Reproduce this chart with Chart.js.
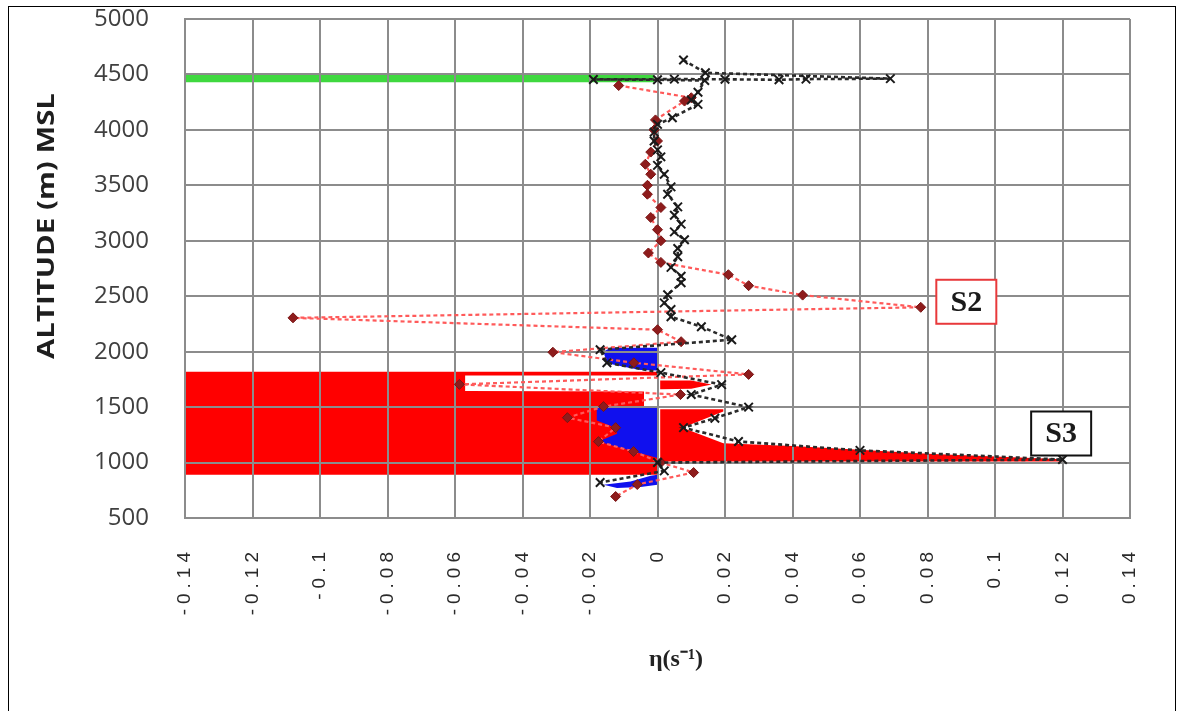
<!DOCTYPE html>
<html><head><meta charset="utf-8">
<script src="https://cdn.jsdelivr.net/npm/chart.js@4.4.1/dist/chart.umd.min.js"></script>
<style>
html,body{margin:0;padding:0;background:#fff;overflow:hidden;}
#wrap{position:relative;width:1181px;height:711px;}
#frame{position:absolute;left:8px;top:6px;width:1168px;height:705px;border:1px solid #000;border-bottom:none;box-sizing:border-box;pointer-events:none;}
canvas{display:block;}
</style></head><body>
<div id="wrap"><canvas id="c" width="1181" height="711"></canvas><div id="frame"></div></div>
<script>
// ---- tick labels ----
const xTickLabels = ['-0.14','-0.12','-0.1','-0.08','-0.06','-0.04','-0.02','0','0.02','0.04','0.06','0.08','0.1','0.12','0.14'];
const yTickLabels = ['500','1000','1500','2000','2500','3000','3500','4000','4500','5000'];

// ---- series with x markers (black) ----
const blackEta = [0.0077,0.0142,0.069,0.044,0.036,0.020,0.005,-0.019,0.0,0.014,0.012,0.010,0.012,0.0044,0.0,-0.001,-0.001,0.0,0.001,0.0,0.002,0.004,0.003,0.006,0.005,0.007,0.005,0.008,0.006,0.006,0.004,0.007,0.007,0.003,0.002,0.004,0.004,0.013,0.022,-0.017,-0.015,0.001,0.019,0.010,0.027,0.017,0.0077,0.024,0.060,0.120,0.0,0.002,-0.017];
const blackAlt = [4630,4515,4462,4458,4452,4456,4458,4455,4452,4445,4340,4270,4230,4110,4050,3980,3900,3820,3757,3680,3600,3486,3420,3306,3230,3150,3080,3009,2930,2856,2760,2680,2622,2514,2440,2380,2315,2225,2108,2018,1900,1811,1703,1613,1500,1400,1315,1190,1110,1027,1000,925,820];

// ---- series with diamond markers (dark red) ----
const redEta = [-0.0115,0.010,0.008,-0.0006,-0.001,0.0,-0.002,-0.0036,-0.002,-0.003,-0.003,0.001,-0.002,0.0,0.001,-0.0027,0.001,0.021,0.027,0.043,0.078,-0.108,0.0,0.007,-0.031,-0.007,0.027,-0.0587,0.0068,-0.016,-0.0267,-0.0124,-0.0175,-0.0071,0.001,0.0107,-0.006,-0.0124];
const redAlt = [4400,4290,4260,4090,4000,3900,3800,3690,3600,3500,3420,3300,3210,3100,3000,2890,2805,2694,2595,2510,2400,2305,2198,2090,1995,1900,1795,1705,1613,1505,1405,1315,1189,1099,1000,910,802,694];

// ---- shaded regions (outline vertices, eta / altitude) ----
const redFillLeftEta  = [-0.14,0.0,0.0,-0.057,-0.057,-0.004,-0.004,0.0,0.0,-0.14];
const redFillLeftAlt  = [1820,1820,1785,1785,1645,1640,1500,1500,890,890];
const redFillRightEta = [0.0008,0.0195,0.0195,0.0074,0.0195,0.040,0.060,0.080,0.120,0.120,0.0008];
const redFillRightAlt = [1480,1480,1460,1315,1175,1150,1115,1080,1030,1010,1010];
const redFillSmallEta = [0.0008,0.010,0.016,0.010,0.0008];
const redFillSmallAlt = [1740,1740,1705,1665,1660];
const blueTopEta = [-0.014,0.0,0.0,-0.005,-0.010,-0.015,-0.016];
const blueTopAlt = [2035,2035,1830,1835,1865,1895,2000];
const blueMidEta = [-0.018,0.0,0.0,-0.007,-0.0175,-0.012,-0.0124,-0.018];
const blueMidAlt = [1495,1495,1040,1099,1189,1260,1315,1380];
const blueLowEta = [-0.016,-0.008,-0.002,0.0,0.0,-0.005,-0.012];
const blueLowAlt = [800,830,880,890,800,780,770];
const greenBandEta = [-0.14,-0.001,-0.001,-0.14];
const greenBandAlt = [4500,4500,4430,4430];

const pts = (xs, ys) => xs.map((x, i) => ({x: x, y: ys[i]}));
const findLabel = (labels, v) => labels.find(l => Math.abs(parseFloat(l) - v) < 1e-6) || '';

function region(xs, ys, color, order) {
  return {data: pts(xs, ys), showLine: true, fill: 'shape', backgroundColor: color,
          borderWidth: 0, borderColor: color, pointRadius: 0, order: order};
}

const annot = {
  id: 'annot',
  afterDatasetsDraw(chart) { chart.ctx.letterSpacing = '5px'; },
  afterDraw(chart) {
    const ctx = chart.ctx;
    ctx.letterSpacing = '0px';
    const xs = chart.scales.x, ys = chart.scales.y;
    const boxes = [
      {t: 'S2', x: 0.0915, y: 2450, c: '#e8393b'},
      {t: 'S3', x: 0.1196, y: 1262, c: '#111'}
    ];
    boxes.forEach(b => {
      const cx = xs.getPixelForValue(b.x), cy = ys.getPixelForValue(b.y);
      ctx.save();
      ctx.fillStyle = '#fff';
      ctx.fillRect(cx - 30, cy - 22, 60, 44);
      ctx.lineWidth = 2; ctx.strokeStyle = b.c;
      ctx.strokeRect(cx - 30, cy - 22, 60, 44);
      ctx.fillStyle = '#1a1a1a';
      ctx.font = 'bold 30px "Liberation Serif"';
      ctx.textAlign = 'center'; ctx.textBaseline = 'middle';
      ctx.fillText(b.t, cx, cy + 1);
      ctx.restore();
    });
    // y title
    ctx.save();
    ctx.translate(47, 226);
    ctx.rotate(-Math.PI / 2);
    ctx.font = 'bold 24px "Open Sans"';
    const t = 'ALTITUDE (m) MSL';
    const w = ctx.measureText(t).width;
    ctx.scale(266 / w, 1);
    ctx.fillStyle = '#1e1e1e';
    ctx.textAlign = 'center'; ctx.textBaseline = 'middle';
    ctx.fillText(t, 0, 0);
    ctx.restore();
    // x title
    ctx.save();
    ctx.font = 'bold 24px "Liberation Serif"';
    ctx.fillStyle = '#222';
    ctx.textAlign = 'center'; ctx.textBaseline = 'middle';
    ctx.fillText('η(s⁻¹)', 676, 660);
    ctx.restore();
  }
};

new Chart(document.getElementById('c'), {
  type: 'scatter',
  data: {
    datasets: [
      {label: 'x', data: pts(blackEta, blackAlt), showLine: true, borderColor: '#2a2a2a', borderWidth: 2.6,
       borderDash: [4, 3], pointStyle: 'crossRot', pointRadius: 6, pointBorderWidth: 2,
       pointBorderColor: '#1a1a1a', pointBackgroundColor: '#1a1a1a', fill: false, order: 0},
      {label: 'd', data: pts(redEta, redAlt), showLine: true, borderColor: '#ff5a5a', borderWidth: 2.2,
       borderDash: [4, 3], pointStyle: 'rectRot', pointRadius: 5, pointBorderWidth: 1,
       pointBorderColor: '#7a1414', pointBackgroundColor: '#8e1c1c', fill: false, order: 1},
      region(blueTopEta, blueTopAlt, '#1010ee', 3),
      region(blueMidEta, blueMidAlt, '#1010ee', 3),
      region(blueLowEta, blueLowAlt, '#1010ee', 3),
      region(redFillLeftEta, redFillLeftAlt, '#ff0000', 4),
      region(redFillRightEta, redFillRightAlt, '#ff0000', 4),
      region(redFillSmallEta, redFillSmallAlt, '#ff0000', 4),
      region(greenBandEta, greenBandAlt, '#3fd83f', 5)
    ]
  },
  options: {
    responsive: false,
    animation: false,
    layout: {padding: {top: 19, right: 51, left: 0, bottom: 0}},
    plugins: {legend: {display: false}, tooltip: {enabled: false}, filler: {drawTime: 'beforeDraw'}},
    scales: {
      x: {
        type: 'linear', min: -0.14, max: 0.14,
        afterFit: s => { s.height = 193; s.paddingLeft = 0; s.paddingRight = 0; s.paddingTop = 0; s.paddingBottom = 0; },
        grid: {color: '#8c8c8c', lineWidth: 2, drawTicks: false},
        border: {color: '#8c8c8c', width: 2},
        ticks: {stepSize: 0.02, autoSkip: false, minRotation: 90, maxRotation: 90, padding: 29, z: 1,
                color: '#2a2a2a', font: {family: '"Liberation Sans"', size: 19},
                callback: v => findLabel(xTickLabels, v)}
      },
      y: {
        type: 'linear', min: 500, max: 5000,
        afterFit: s => { s.width = 185; s.paddingTop = 0; s.paddingBottom = 0; s.paddingLeft = 0; s.paddingRight = 0; },
        grid: {color: '#8c8c8c', lineWidth: 2, drawTicks: false},
        border: {color: '#8c8c8c', width: 2},
        ticks: {stepSize: 500, padding: 36, color: '#404040', font: {family: '"Open Sans"', size: 24},
                callback: v => findLabel(yTickLabels, v)}
      }
    }
  },
  plugins: [annot]
});
</script>
</body></html>
